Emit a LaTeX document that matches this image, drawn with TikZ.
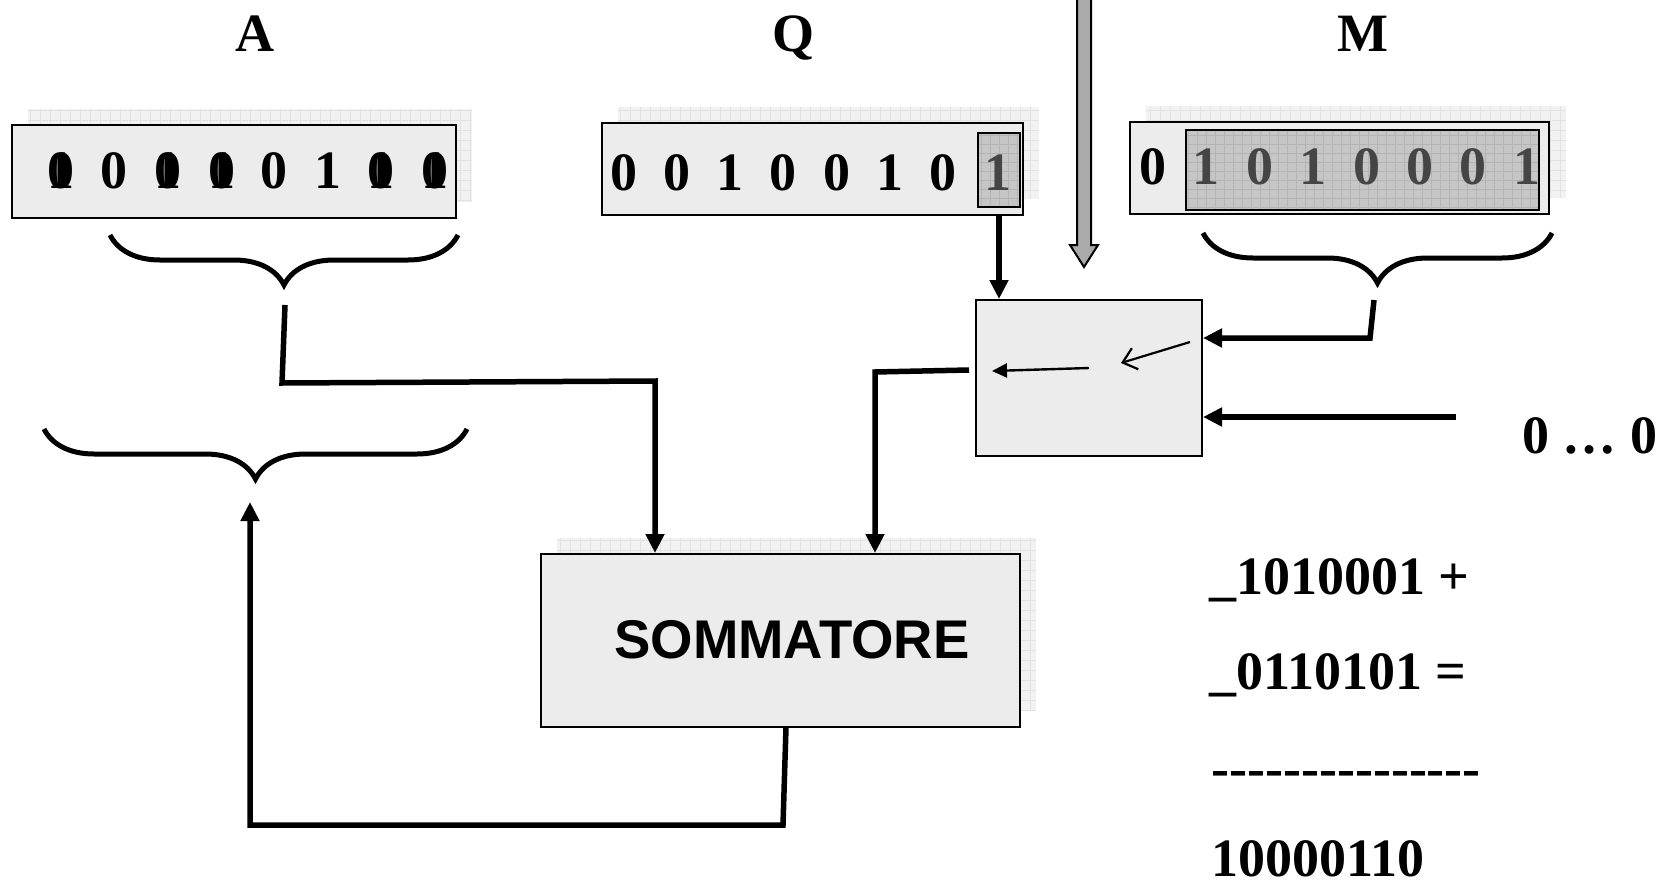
\documentclass[tikz,border=0pt]{standalone}
\usepackage{fontspec}
\setmainfont{Liberation Serif}
\setsansfont{Liberation Sans}
\newfontfamily\dashfont{Liberation Serif}[Ligatures=TeXOff]
\usetikzlibrary{arrows.meta,decorations.pathreplacing}
\definecolor{boxfill}{HTML}{ECECEC}
\definecolor{shadowfill}{HTML}{F2F2F2}
\definecolor{gridcol}{HTML}{E2E2E2}
\definecolor{innerfill}{HTML}{C6C6C6}
\definecolor{innergrid}{HTML}{B4B4B4}
\definecolor{digitgray}{HTML}{454545}
\definecolor{arrowgray}{HTML}{AAAAAA}
\newcommand\ovl{\makebox[0pt]{0}\makebox[0pt]{1}}
\begin{document}
\begin{tikzpicture}[x=1pt,y=-1pt,
  regbox/.style={draw=black, line width=2.5pt, fill=boxfill, inner sep=0, rectangle},
  innerbox/.style={draw=black, line width=2.2pt, inner sep=0, rectangle},
  shadowbox/.style={fill=shadowfill},
  gridline/.style={draw=gridcol, line width=0.8pt},
  igridline/.style={draw=innergrid, line width=0.8pt},
  digit/.style={font=\bfseries\fontsize{54}{60}\selectfont, anchor=base, inner sep=0},
  gdigit/.style={digit, text=digitgray},
  bigtxt/.style={font=\bfseries\fontsize{54}{60}\selectfont, anchor=base west, inner sep=0},
  wire/.style={line width=5.5pt},
  arr/.style={wire, -{Triangle[length=19pt,width=18pt]}},
  thinarr/.style={line width=2.4pt, -{Triangle[length=15pt,width=14pt]}},
  openarr/.style={line width=2.2pt, -{Straight Barb[length=13pt,width=22pt]}},
  bracestyle/.style={line width=5pt, decorate, decoration={brace, mirror, amplitude=50pt}}
]
\useasboundingbox (0,0) rectangle (1663,886);

% shadows
\fill[shadowbox] (28,109) rectangle (472,202);
\draw[gridline] (28,109) grid[step=10pt] (472,202);
\fill[shadowbox] (618,107) rectangle (1039,199);
\draw[gridline] (618,107) grid[step=10pt] (1039,199);
\fill[shadowbox] (1146,106) rectangle (1566,198);
\draw[gridline] (1146,106) grid[step=10pt] (1566,198);
\fill[shadowbox] (557,538) rectangle (1036,711);
\draw[gridline] (557,538) grid[step=10pt] (1036,711);

% labels
\node[digit] (labA) at (255,51) {A};
\node[digit] (labQ) at (793,51) {Q};
\node[digit] (labM) at (1363,51) {M};

% register A
\node[regbox, minimum width=444pt, minimum height=93pt] (regA) at (234,171.5) {};
\foreach \x/\d in {61/\ovl,114/0,168/\ovl,222/\ovl,274/0,328/1,381/\ovl,435/\ovl}
  \node[digit] at (\x,188) {\d};

% register Q
\node[regbox, minimum width=421pt, minimum height=92pt] (regQ) at (812.5,169) {};
\node[innerbox, fill=innerfill, minimum width=42pt, minimum height=74pt] (qbit) at (999,170) {};
\begin{scope}
\clip (979,134) rectangle (1019,206);
\draw[igridline] (979,134) grid[step=9pt] (1019,206);
\end{scope}
\foreach \x/\d in {624/0,677/0,730/1,783/0,837/0,890/1,943/0}
  \node[digit] at (\x,190) {\d};
\node[gdigit] at (998,190) {1};

% register M
\node[regbox, minimum width=419pt, minimum height=92pt] (regM) at (1339.5,168) {};
\node[innerbox, fill=innerfill, minimum width=353pt, minimum height=80pt] (mbits) at (1362.5,170) {};
\begin{scope}
\clip (1187,131) rectangle (1538,209);
\draw[igridline] (1187,131) grid[step=9pt] (1538,209);
\end{scope}
\node[digit] at (1153,184) {0};
\foreach \x/\d in {1206/1,1260/0,1313/1,1367/0,1420/0,1473/0,1527/1}
  \node[gdigit] at (\x,184) {\d};

% braces
\draw[bracestyle] (110,235) -- (458,235);
\draw[bracestyle] (44,429) -- (467,429);
\draw[bracestyle] (1203,233) -- (1552,233);

% mux and adder
\node[regbox, line width=2pt, minimum width=226pt, minimum height=156pt] (mux) at (1089,378) {};
\node[regbox, line width=2pt, minimum width=479pt, minimum height=173pt] (sum) at (780.5,640.5) {};
\node[font=\sffamily\bfseries\fontsize{54.5}{60}\selectfont, anchor=base, inner sep=0] (sumtxt) at (792,658) {SOMMATORE};

% big gray arrow
\draw[fill=arrowgray, line width=2pt, line join=miter]
  (1077,-5) -- (1077,245) -- (1070,245) -- (1084,267) -- (1098,245) -- (1091,245) -- (1091,-5) -- cycle;

% connectors
\coordinate (a1) at (285,305);
\coordinate (a2) at (282,383);
\coordinate (a3) at (655,381);
\draw[arr] (a1) -- (a2) -- (a3) -- (a3 |- sum.north);

\coordinate (m1) at (969,370);
\coordinate (m2) at (875,372);
\draw[arr] (m1) -- (m2) -- (m2 |- sum.north);

\coordinate (s1) at (786,727);
\coordinate (s2) at (783,825);
\coordinate (s3) at (250,825);
\coordinate (btip) at (250,502);
\draw[arr] (s1) -- (s2) -- (s3) -- (btip);

\draw[arr] (qbit.south |- regQ.south) -- (qbit.south |- mux.north);

\coordinate (mb1) at (1374,300);
\coordinate (mb2) at (1370,338);
\draw[arr] (mb1) -- (mb2) -- (mb2 -| mux.east);

\coordinate (z1) at (1456,417);
\draw[arr] (z1) -- (z1 -| mux.east);

\coordinate (i1) at (1089,368);
\coordinate (i2) at (992,371);
\draw[thinarr] (i1) -- (i2);
\coordinate (i3) at (1190,342);
\coordinate (i4) at (1121,363);
\draw[openarr] (i3) -- (i4);

% right-hand texts
\node[bigtxt] (zeros) at (1522,453) {0 … 0};
\node[bigtxt] (l1) at (1209,594) {\_1010001 +};
\node[bigtxt] (l2) at (1209,689) {\_0110101 =};
\node[bigtxt, font=\dashfont\bfseries\fontsize{54}{60}\selectfont] (l3) at (1211,786) {---------------};
\node[bigtxt] (l4) at (1211,876) {10000110};
\end{tikzpicture}
\end{document}
